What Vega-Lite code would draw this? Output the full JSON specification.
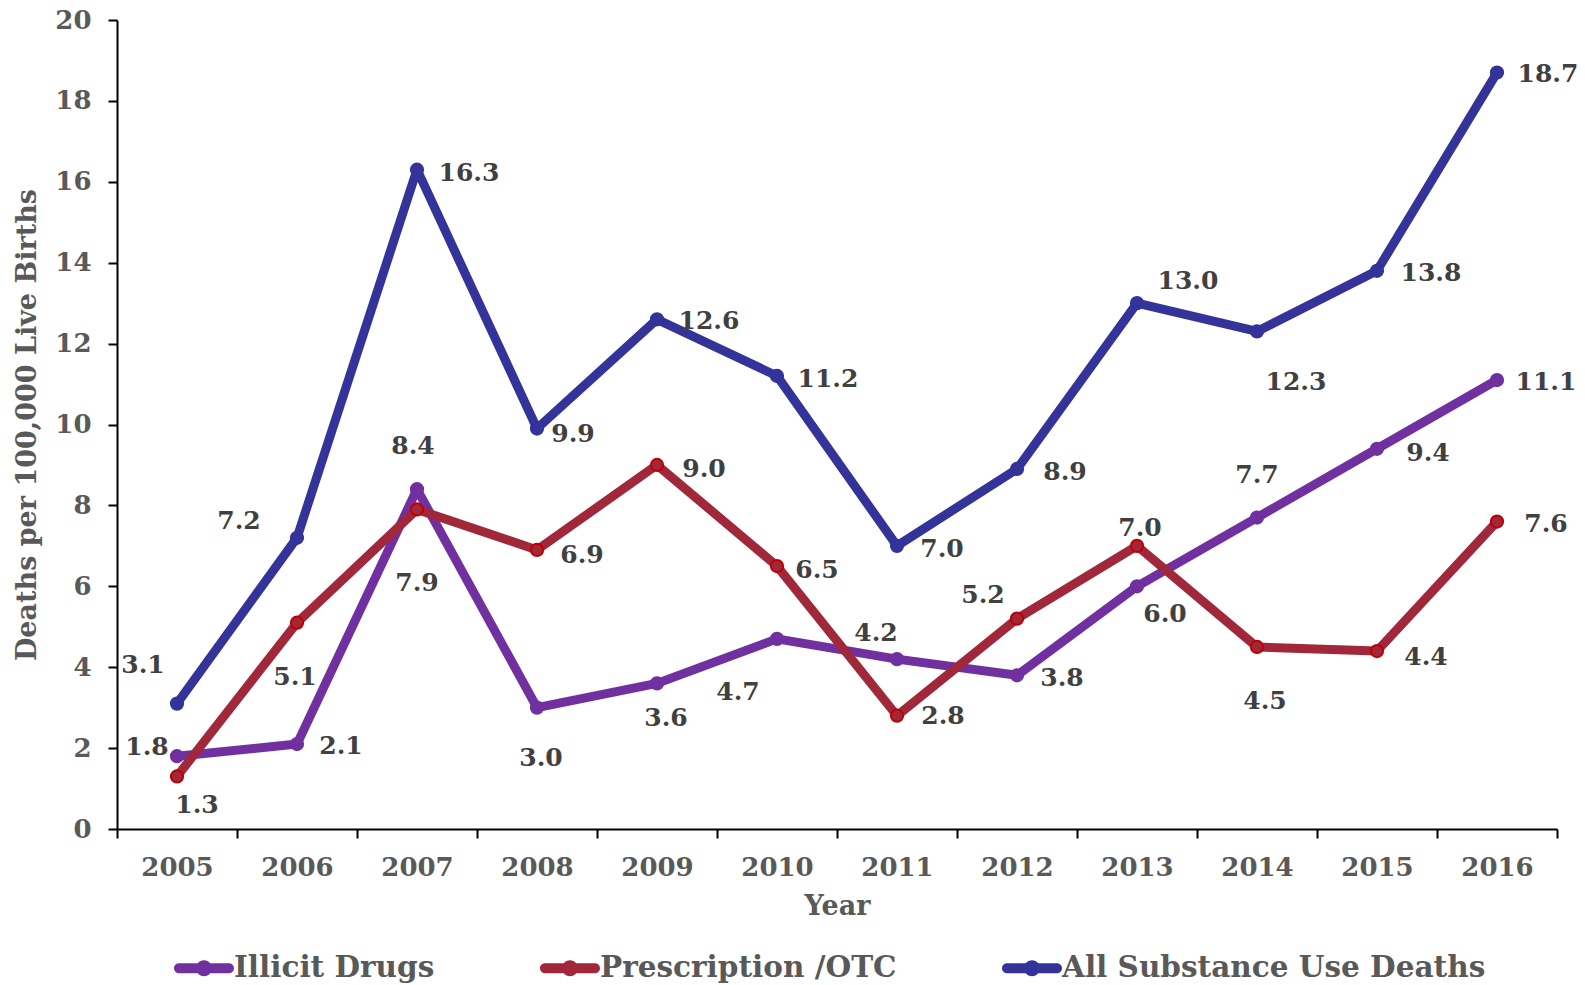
{
  "$schema": "https://vega.github.io/schema/vega-lite/v6.json",
  "autosize": {"type": "none"},
  "padding": {"left": 117, "top": 20, "right": 28, "bottom": 156},
  "width": 1440,
  "height": 809,
  "config": {
    "font": "DejaVu Serif",
    "view": {"stroke": null},
    "text": {"font": "DejaVu Serif", "fontWeight": "bold", "fontSize": 25, "color": "#404040", "align": "center", "baseline": "middle"}
  },
  "data": {
    "values": [
      {"Year": 2005, "s": "Illicit Drugs", "v": 1.8},
      {"Year": 2006, "s": "Illicit Drugs", "v": 2.1},
      {"Year": 2007, "s": "Illicit Drugs", "v": 8.4},
      {"Year": 2008, "s": "Illicit Drugs", "v": 3.0},
      {"Year": 2009, "s": "Illicit Drugs", "v": 3.6},
      {"Year": 2010, "s": "Illicit Drugs", "v": 4.7},
      {"Year": 2011, "s": "Illicit Drugs", "v": 4.2},
      {"Year": 2012, "s": "Illicit Drugs", "v": 3.8},
      {"Year": 2013, "s": "Illicit Drugs", "v": 6.0},
      {"Year": 2014, "s": "Illicit Drugs", "v": 7.7},
      {"Year": 2015, "s": "Illicit Drugs", "v": 9.4},
      {"Year": 2016, "s": "Illicit Drugs", "v": 11.1},
      {"Year": 2005, "s": "Prescription /OTC", "v": 1.3},
      {"Year": 2006, "s": "Prescription /OTC", "v": 5.1},
      {"Year": 2007, "s": "Prescription /OTC", "v": 7.9},
      {"Year": 2008, "s": "Prescription /OTC", "v": 6.9},
      {"Year": 2009, "s": "Prescription /OTC", "v": 9.0},
      {"Year": 2010, "s": "Prescription /OTC", "v": 6.5},
      {"Year": 2011, "s": "Prescription /OTC", "v": 2.8},
      {"Year": 2012, "s": "Prescription /OTC", "v": 5.2},
      {"Year": 2013, "s": "Prescription /OTC", "v": 7.0},
      {"Year": 2014, "s": "Prescription /OTC", "v": 4.5},
      {"Year": 2015, "s": "Prescription /OTC", "v": 4.4},
      {"Year": 2016, "s": "Prescription /OTC", "v": 7.6},
      {"Year": 2005, "s": "All Substance Use Deaths", "v": 3.1},
      {"Year": 2006, "s": "All Substance Use Deaths", "v": 7.2},
      {"Year": 2007, "s": "All Substance Use Deaths", "v": 16.3},
      {"Year": 2008, "s": "All Substance Use Deaths", "v": 9.9},
      {"Year": 2009, "s": "All Substance Use Deaths", "v": 12.6},
      {"Year": 2010, "s": "All Substance Use Deaths", "v": 11.2},
      {"Year": 2011, "s": "All Substance Use Deaths", "v": 7.0},
      {"Year": 2012, "s": "All Substance Use Deaths", "v": 8.9},
      {"Year": 2013, "s": "All Substance Use Deaths", "v": 13.0},
      {"Year": 2014, "s": "All Substance Use Deaths", "v": 12.3},
      {"Year": 2015, "s": "All Substance Use Deaths", "v": 13.8},
      {"Year": 2016, "s": "All Substance Use Deaths", "v": 18.7}
    ]
  },
  "encoding": {
    "x": {"field": "Year", "type": "quantitative", "scale": {"domain": [2004.5, 2016.5], "nice": false, "zero": false}},
    "y": {"field": "v", "type": "quantitative", "scale": {"domain": [0, 20], "nice": false}}
  },
  "resolve": {"axis": {"x": "independent", "y": "independent"}},
  "layer": [
    {
      "mark": {"type": "rule", "opacity": 0},
      "encoding": {
        "x": {"field": "Year", "type": "quantitative",
          "axis": {"orient": "bottom", "values": [2004.5, 2005.5, 2006.5, 2007.5, 2008.5, 2009.5, 2010.5, 2011.5, 2012.5, 2013.5, 2014.5, 2015.5, 2016.5],
            "labels": false, "title": null, "grid": false, "domainColor": "#000000", "domainWidth": 2, "tickColor": "#000000", "tickWidth": 2, "tickSize": 9}},
        "y": {"field": "v", "type": "quantitative",
          "axis": {"orient": "left", "values": [0, 2, 4, 6, 8, 10, 12, 14, 16, 18, 20], "grid": false,
            "domainColor": "#000000", "domainWidth": 2, "tickColor": "#000000", "tickWidth": 2, "tickSize": 9,
            "labelFont": "DejaVu Serif", "labelFontWeight": "bold", "labelFontSize": 26, "labelColor": "#595959", "labelPadding": 17,
            "title": "Deaths per 100,000 Live Births", "titleFont": "DejaVu Serif", "titleFontWeight": "bold", "titleFontSize": 27, "titleColor": "#595959",
            "titleAngle": -90, "titleX": -90, "titleY": 404.5, "titleAlign": "center", "titleBaseline": "middle"}}
      }
    },
    {
      "mark": {"type": "rule", "opacity": 0},
      "encoding": {
        "x": {"field": "Year", "type": "quantitative",
          "axis": {"orient": "bottom", "values": [2005, 2006, 2007, 2008, 2009, 2010, 2011, 2012, 2013, 2014, 2015, 2016], "format": "d",
            "ticks": false, "tickSize": 0, "domain": false, "grid": false,
            "labelFont": "DejaVu Serif", "labelFontWeight": "bold", "labelFontSize": 26, "labelColor": "#595959", "labelPadding": 38, "labelBaseline": "middle",
            "title": "Year", "titleFont": "DejaVu Serif", "titleFontWeight": "bold", "titleFontSize": 27, "titleColor": "#595959",
            "titleX": 720, "titleY": 77, "titleAlign": "center", "titleBaseline": "middle"}},
        "y": {"field": "v", "type": "quantitative", "axis": null}
      }
    },
    {
      "mark": {"type": "line", "strokeWidth": 9, "strokeCap": "round", "strokeJoin": "round"},
      "encoding": {
        "x": {"field": "Year", "type": "quantitative", "axis": null},
        "y": {"field": "v", "type": "quantitative", "axis": null},
        "color": {"field": "s", "type": "nominal",
          "scale": {"domain": ["Illicit Drugs", "Prescription /OTC", "All Substance Use Deaths"], "range": ["#7030A0", "#A0283A", "#333399"]},
          "legend": {"orient": "none", "legendX": 57, "legendY": 918, "direction": "horizontal", "title": null,
            "symbolType": "M-0.833,-0.167 L-0.208,-0.167 A0.267,0.267 0 0 1 0.208,-0.167 L0.833,-0.167 A0.167,0.167 0 0 1 0.833,0.167 L0.208,0.167 A0.267,0.267 0 0 1 -0.208,0.167 L-0.833,0.167 A0.167,0.167 0 0 1 -0.833,-0.167 Z",
            "symbolSize": 3600, "symbolStrokeWidth": 0, "symbolOpacity": 1,
            "labelFont": "DejaVu Serif", "labelFontWeight": "bold", "labelFontSize": 29.5, "labelColor": "#595959", "labelOffset": 0, "labelLimit": 600,
            "columnPadding": 105,
            "encode": {"symbols": {"update": {"fill": {"scale": "color", "field": "value"}, "strokeWidth": {"value": 0}, "opacity": {"value": 1}}}}}
        },
        "order": {"field": "Year", "type": "quantitative"}
      }
    },
    {
      "mark": {"type": "point", "filled": true, "size": 150, "opacity": 1, "strokeWidth": 2},
      "encoding": {
        "x": {"field": "Year", "type": "quantitative", "axis": null},
        "y": {"field": "v", "type": "quantitative", "axis": null},
        "color": {"field": "s", "type": "nominal"},
        "stroke": {"field": "s", "type": "nominal",
          "scale": {"domain": ["Illicit Drugs", "Prescription /OTC", "All Substance Use Deaths"], "range": ["#7030A0", "#C00000", "#333399"]},
          "legend": null}
      }
    },
    {
      "encoding": {
        "x": {"field": "Year", "type": "quantitative", "axis": null},
        "y": {"field": "v", "type": "quantitative", "axis": null},
        "text": {"field": "v", "type": "quantitative", "format": ".1f"}
      },
      "layer": [
        {"transform": [{"filter": "datum.s=='Illicit Drugs' && datum.Year==2005"}], "mark": {"type": "text", "dx": -30, "dy": -9}},
        {"transform": [{"filter": "datum.s=='Illicit Drugs' && datum.Year==2006"}], "mark": {"type": "text", "dx": 44, "dy": 2}},
        {"transform": [{"filter": "datum.s=='Illicit Drugs' && datum.Year==2007"}], "mark": {"type": "text", "dx": -4, "dy": -43}},
        {"transform": [{"filter": "datum.s=='Illicit Drugs' && datum.Year==2008"}], "mark": {"type": "text", "dx": 4, "dy": 50}},
        {"transform": [{"filter": "datum.s=='Illicit Drugs' && datum.Year==2009"}], "mark": {"type": "text", "dx": 9, "dy": 35}},
        {"transform": [{"filter": "datum.s=='Illicit Drugs' && datum.Year==2010"}], "mark": {"type": "text", "dx": -39, "dy": 53}},
        {"transform": [{"filter": "datum.s=='Illicit Drugs' && datum.Year==2011"}], "mark": {"type": "text", "dx": -21, "dy": -26}},
        {"transform": [{"filter": "datum.s=='Illicit Drugs' && datum.Year==2012"}], "mark": {"type": "text", "dx": 45, "dy": 3}},
        {"transform": [{"filter": "datum.s=='Illicit Drugs' && datum.Year==2013"}], "mark": {"type": "text", "dx": 28, "dy": 28}},
        {"transform": [{"filter": "datum.s=='Illicit Drugs' && datum.Year==2014"}], "mark": {"type": "text", "dx": 0, "dy": -43}},
        {"transform": [{"filter": "datum.s=='Illicit Drugs' && datum.Year==2015"}], "mark": {"type": "text", "dx": 51, "dy": 4}},
        {"transform": [{"filter": "datum.s=='Illicit Drugs' && datum.Year==2016"}], "mark": {"type": "text", "dx": 49, "dy": 2}},
        {"transform": [{"filter": "datum.s=='Prescription /OTC' && datum.Year==2005"}], "mark": {"type": "text", "dx": 20, "dy": 29}},
        {"transform": [{"filter": "datum.s=='Prescription /OTC' && datum.Year==2006"}], "mark": {"type": "text", "dx": -2, "dy": 54}},
        {"transform": [{"filter": "datum.s=='Prescription /OTC' && datum.Year==2007"}], "mark": {"type": "text", "dx": 0, "dy": 74}},
        {"transform": [{"filter": "datum.s=='Prescription /OTC' && datum.Year==2008"}], "mark": {"type": "text", "dx": 45, "dy": 5}},
        {"transform": [{"filter": "datum.s=='Prescription /OTC' && datum.Year==2009"}], "mark": {"type": "text", "dx": 47, "dy": 4}},
        {"transform": [{"filter": "datum.s=='Prescription /OTC' && datum.Year==2010"}], "mark": {"type": "text", "dx": 40, "dy": 4}},
        {"transform": [{"filter": "datum.s=='Prescription /OTC' && datum.Year==2011"}], "mark": {"type": "text", "dx": 46, "dy": 0}},
        {"transform": [{"filter": "datum.s=='Prescription /OTC' && datum.Year==2012"}], "mark": {"type": "text", "dx": -34, "dy": -24}},
        {"transform": [{"filter": "datum.s=='Prescription /OTC' && datum.Year==2013"}], "mark": {"type": "text", "dx": 3, "dy": -18}},
        {"transform": [{"filter": "datum.s=='Prescription /OTC' && datum.Year==2014"}], "mark": {"type": "text", "dx": 8, "dy": 54}},
        {"transform": [{"filter": "datum.s=='Prescription /OTC' && datum.Year==2015"}], "mark": {"type": "text", "dx": 49, "dy": 6}},
        {"transform": [{"filter": "datum.s=='Prescription /OTC' && datum.Year==2016"}], "mark": {"type": "text", "dx": 49, "dy": 2}},
        {"transform": [{"filter": "datum.s=='All Substance Use Deaths' && datum.Year==2005"}], "mark": {"type": "text", "dx": -34, "dy": -39}},
        {"transform": [{"filter": "datum.s=='All Substance Use Deaths' && datum.Year==2006"}], "mark": {"type": "text", "dx": -58, "dy": -17}},
        {"transform": [{"filter": "datum.s=='All Substance Use Deaths' && datum.Year==2007"}], "mark": {"type": "text", "dx": 52, "dy": 3}},
        {"transform": [{"filter": "datum.s=='All Substance Use Deaths' && datum.Year==2008"}], "mark": {"type": "text", "dx": 36, "dy": 5}},
        {"transform": [{"filter": "datum.s=='All Substance Use Deaths' && datum.Year==2009"}], "mark": {"type": "text", "dx": 52, "dy": 2}},
        {"transform": [{"filter": "datum.s=='All Substance Use Deaths' && datum.Year==2010"}], "mark": {"type": "text", "dx": 51, "dy": 3}},
        {"transform": [{"filter": "datum.s=='All Substance Use Deaths' && datum.Year==2011"}], "mark": {"type": "text", "dx": 45, "dy": 3}},
        {"transform": [{"filter": "datum.s=='All Substance Use Deaths' && datum.Year==2012"}], "mark": {"type": "text", "dx": 48, "dy": 3}},
        {"transform": [{"filter": "datum.s=='All Substance Use Deaths' && datum.Year==2013"}], "mark": {"type": "text", "dx": 51, "dy": -22}},
        {"transform": [{"filter": "datum.s=='All Substance Use Deaths' && datum.Year==2014"}], "mark": {"type": "text", "dx": 39, "dy": 51}},
        {"transform": [{"filter": "datum.s=='All Substance Use Deaths' && datum.Year==2015"}], "mark": {"type": "text", "dx": 54, "dy": 2}},
        {"transform": [{"filter": "datum.s=='All Substance Use Deaths' && datum.Year==2016"}], "mark": {"type": "text", "dx": 51, "dy": 1}}
      ]
    }
  ]
}
